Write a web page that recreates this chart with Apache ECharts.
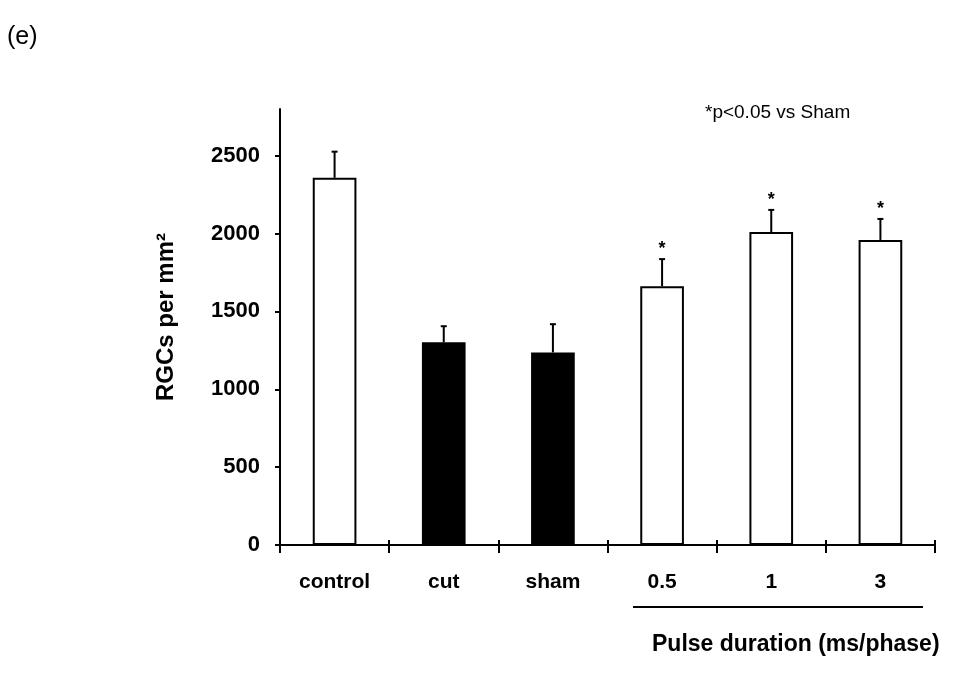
<!DOCTYPE html>
<html>
<head>
<meta charset="utf-8">
<script src="https://cdn.jsdelivr.net/npm/echarts@6/dist/echarts.min.js"></script>
<style>
  html, body { margin: 0; padding: 0; background: #fff; }
  #chart { width: 958px; height: 677px; }
</style>
</head>
<body>
<div id="chart"></div>
<script>
// RGC density per group (mean, upper SEM) and pulse-duration groups
const categories = ['control', 'cut', 'sham', '0.5', '1', '3'];
const meanDensity = [2358, 1302, 1237, 1662, 2010, 1959];
const semDensity = [168, 103, 181, 174, 142, 135];
const significant = [false, false, false, true, true, true];
const filledBar = [false, true, true, false, false, false];
const yTicks = [0, 500, 1000, 1500, 2000, 2500];

const FONT = "'Liberation Sans', Arial, sans-serif";
const chart = echarts.init(document.getElementById('chart'));

const barData = meanDensity.map((v, i) => ({
  value: v,
  itemStyle: {
    color: filledBar[i] ? '#000' : '#fff',
    borderColor: '#000',
    borderWidth: 2
  }
}));

const errData = meanDensity.map((v, i) => [i, v, v + semDensity[i], significant[i] ? 1 : 0]);

chart.setOption({
  animation: false,
  backgroundColor: '#fff',
  grid: { left: 280, width: 655, top: 109, height: 436 },
  xAxis: [{
    type: 'category',
    data: categories,
    position: 'bottom',
    axisLine: { lineStyle: { color: '#000', width: 2 } },
    axisTick: { show: true, length: 8, lineStyle: { color: '#000', width: 2 } },
    axisLabel: { color: '#000', fontFamily: FONT, fontWeight: 'bold', fontSize: 21, margin: 27 }
  }, {
    // upper half of the crossing tick marks on the category axis
    type: 'category',
    data: categories,
    position: 'top',
    offset: -436,
    axisLine: { show: false },
    axisTick: { show: true, length: 5, lineStyle: { color: '#000', width: 2 } },
    axisLabel: { show: false }
  }],
  yAxis: {
    type: 'value',
    min: 0,
    max: 2800,
    interval: 500,
    splitLine: { show: false },
    axisLine: { show: true, lineStyle: { color: '#000', width: 2 } },
    axisTick: { show: true, length: 5, customValues: yTicks, lineStyle: { color: '#000', width: 2 } },
    axisLabel: {
      color: '#000', fontFamily: FONT, fontWeight: 'bold', fontSize: 22, margin: 20,
      customValues: yTicks,
      formatter: v => String(v)
    }
  },
  series: [{
    type: 'bar',
    data: barData,
    barWidth: '40%',
    z: 2
  }, {
    type: 'custom',
    data: errData,
    z: 3,
    renderItem: function (params, api) {
      const i = api.value(0);
      const top = api.coord([i, api.value(1)]);
      const hi = api.coord([i, api.value(2)]);
      const x = top[0];
      const children = [
        { type: 'line', shape: { x1: x, y1: top[1], x2: x, y2: hi[1] }, style: { stroke: '#000', lineWidth: 2 } },
        { type: 'line', shape: { x1: x - 3, y1: hi[1], x2: x + 3, y2: hi[1] }, style: { stroke: '#000', lineWidth: 2 } }
      ];
      if (api.value(3) === 1) {
        children.push({
          type: 'text',
          style: { text: '*', x: x, y: hi[1] - 10, align: 'center', verticalAlign: 'middle', fill: '#000', font: 'bold 18px ' + FONT }
        });
      }
      return { type: 'group', children: children };
    }
  }],
  graphic: [{
    type: 'text',
    left: 7,
    top: 25,
    style: { text: '(e)', fill: '#000', font: '25px ' + FONT }
  }, {
    type: 'text',
    x: 166,
    y: 317,
    rotation: Math.PI / 2,
    style: { text: 'RGCs per mm²', fill: '#000', font: 'bold 24px ' + FONT, align: 'center', verticalAlign: 'middle' }
  }, {
    type: 'text',
    left: 705,
    top: 103,
    style: { text: '*p<0.05 vs Sham', fill: '#000', font: '19px ' + FONT }
  }, {
    type: 'line',
    shape: { x1: 633, y1: 607, x2: 923, y2: 607 },
    style: { stroke: '#000', lineWidth: 2 }
  }, {
    type: 'text',
    left: 652,
    top: 633,
    style: { text: 'Pulse duration (ms/phase)', fill: '#000', font: 'bold 23px ' + FONT }
  }]
});
</script>
</body>
</html>
